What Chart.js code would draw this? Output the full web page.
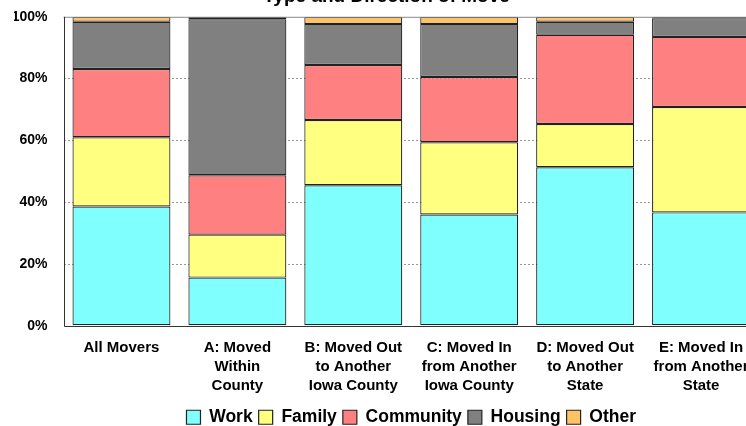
<!DOCTYPE html>
<html>
<head>
<meta charset="utf-8">
<script src="https://cdn.jsdelivr.net/npm/chart.js@4/dist/chart.umd.min.js"></script>
<style>
  html, body { margin: 0; padding: 0; background: #fff; overflow: hidden; }
  #wrap { position: absolute; left: 0; top: -20px; width: 760px; height: 456px; }
</style>
</head>
<body>
<div id="wrap"><canvas id="myChart"></canvas></div>
<script>
/* globals Chart */

const categories = [
  ["All Movers"],
  ["A: Moved", "Within", "County"],
  ["B: Moved Out", "to Another", "Iowa County"],
  ["C: Moved In", "from Another", "Iowa County"],
  ["D: Moved Out", "to Another", "State"],
  ["E: Moved In", "from Another", "State"],
];

// percent shares
const work = [38.6, 15.6, 45.5, 36.0, 51.3, 36.7];
const family = [22.4, 13.9, 21.1, 23.4, 14.0, 34.1];
const community = [22.1, 19.2, 17.8, 21.1, 28.9, 22.7];
const housing = [15.3, 50.5, 13.3, 17.2, 4.2, 6.0];
const other = [1.6, 0.8, 2.3, 2.3, 1.6, 0.5];

const yTicks = [0, 20, 40, 60, 80, 100];

const frame = {
  id: "frame",
  afterDatasetsDraw(chart) {
    const { ctx, chartArea: a } = chart;
    ctx.save();
    ctx.lineWidth = 1;
    ctx.strokeStyle = "#888";
    ctx.beginPath();
    ctx.moveTo(a.left, a.top + 0.5);
    ctx.lineTo(a.right, a.top + 0.5);
    ctx.stroke();
    ctx.strokeStyle = "#333";
    ctx.beginPath();
    ctx.moveTo(Math.round(a.left) + 0.5, a.top);
    ctx.lineTo(Math.round(a.left) + 0.5, Math.round(a.bottom) + 0.5);
    ctx.lineTo(a.right, Math.round(a.bottom) + 0.5);
    ctx.stroke();
    ctx.restore();
  },
};

const series = (label, data, color) => ({
  label,
  data,
  backgroundColor: color,
  borderColor: "#222",
  borderWidth: 1.2,
  borderSkipped: false,
  barPercentage: 0.845,
  categoryPercentage: 1,
});

const ctx = document.getElementById("myChart").getContext("2d");

/* exported myChart */
const myChart = new Chart(ctx, {
  type: "bar",
  data: {
    labels: categories,
    datasets: [
      series("Work", work, "#80ffff"),
      series("Family", family, "#ffff80"),
      series("Community", community, "#ff8080"),
      series("Housing", housing, "#808080"),
      series("Other", other, "#ffc266"),
    ],
  },
  plugins: [frame],
  options: {
    responsive: true,
    maintainAspectRatio: false,
    animation: false,
    layout: { padding: { left: 14, right: 1, top: 0, bottom: 0 } },
    scales: {
      x: {
        stacked: true,
        grid: { display: false },
        border: { display: false },
        afterFit: (s) => {
          s.height += 2;
        },
        ticks: {
          color: "#000",
          padding: 5,
          maxRotation: 0,
          font: { family: "Liberation Sans", size: 15, weight: "bold", lineHeight: 1.26 },
        },
      },
      y: {
        stacked: true,
        min: 0,
        max: 100,
        border: { display: false, dash: [2, 2] },
        grid: {
          drawTicks: false,
          color: (c) => (c.tick && (c.tick.value === 0 || c.tick.value === 100) ? "rgba(0,0,0,0)" : "#999"),
        },
        afterBuildTicks: (axis) => {
          axis.ticks = yTicks.map((v) => ({ value: v }));
        },
        afterFit: (s) => {
          s.width = 49.5;
        },
        ticks: {
          color: "#000",
          padding: 16,
          callback: (v) => `${v}%`,
          font: { family: "Liberation Sans", size: 14, weight: "bold" },
        },
      },
    },
    plugins: {
      title: {
        display: true,
        text: "Type and Direction of Move",
        color: "#000",
        padding: { top: 5, bottom: 9 },
        font: { family: "Liberation Sans", size: 19, weight: "bold" },
      },
      legend: {
        position: "bottom",
        fullSize: false,
        labels: {
          color: "#000",
          boxWidth: 14,
          boxHeight: 14,
          padding: 6,
          font: { family: "Liberation Sans", size: 17.5, weight: "bold" },
        },
      },
      tooltip: { enabled: false },
    },
  },
});
</script>
</body>
</html>
